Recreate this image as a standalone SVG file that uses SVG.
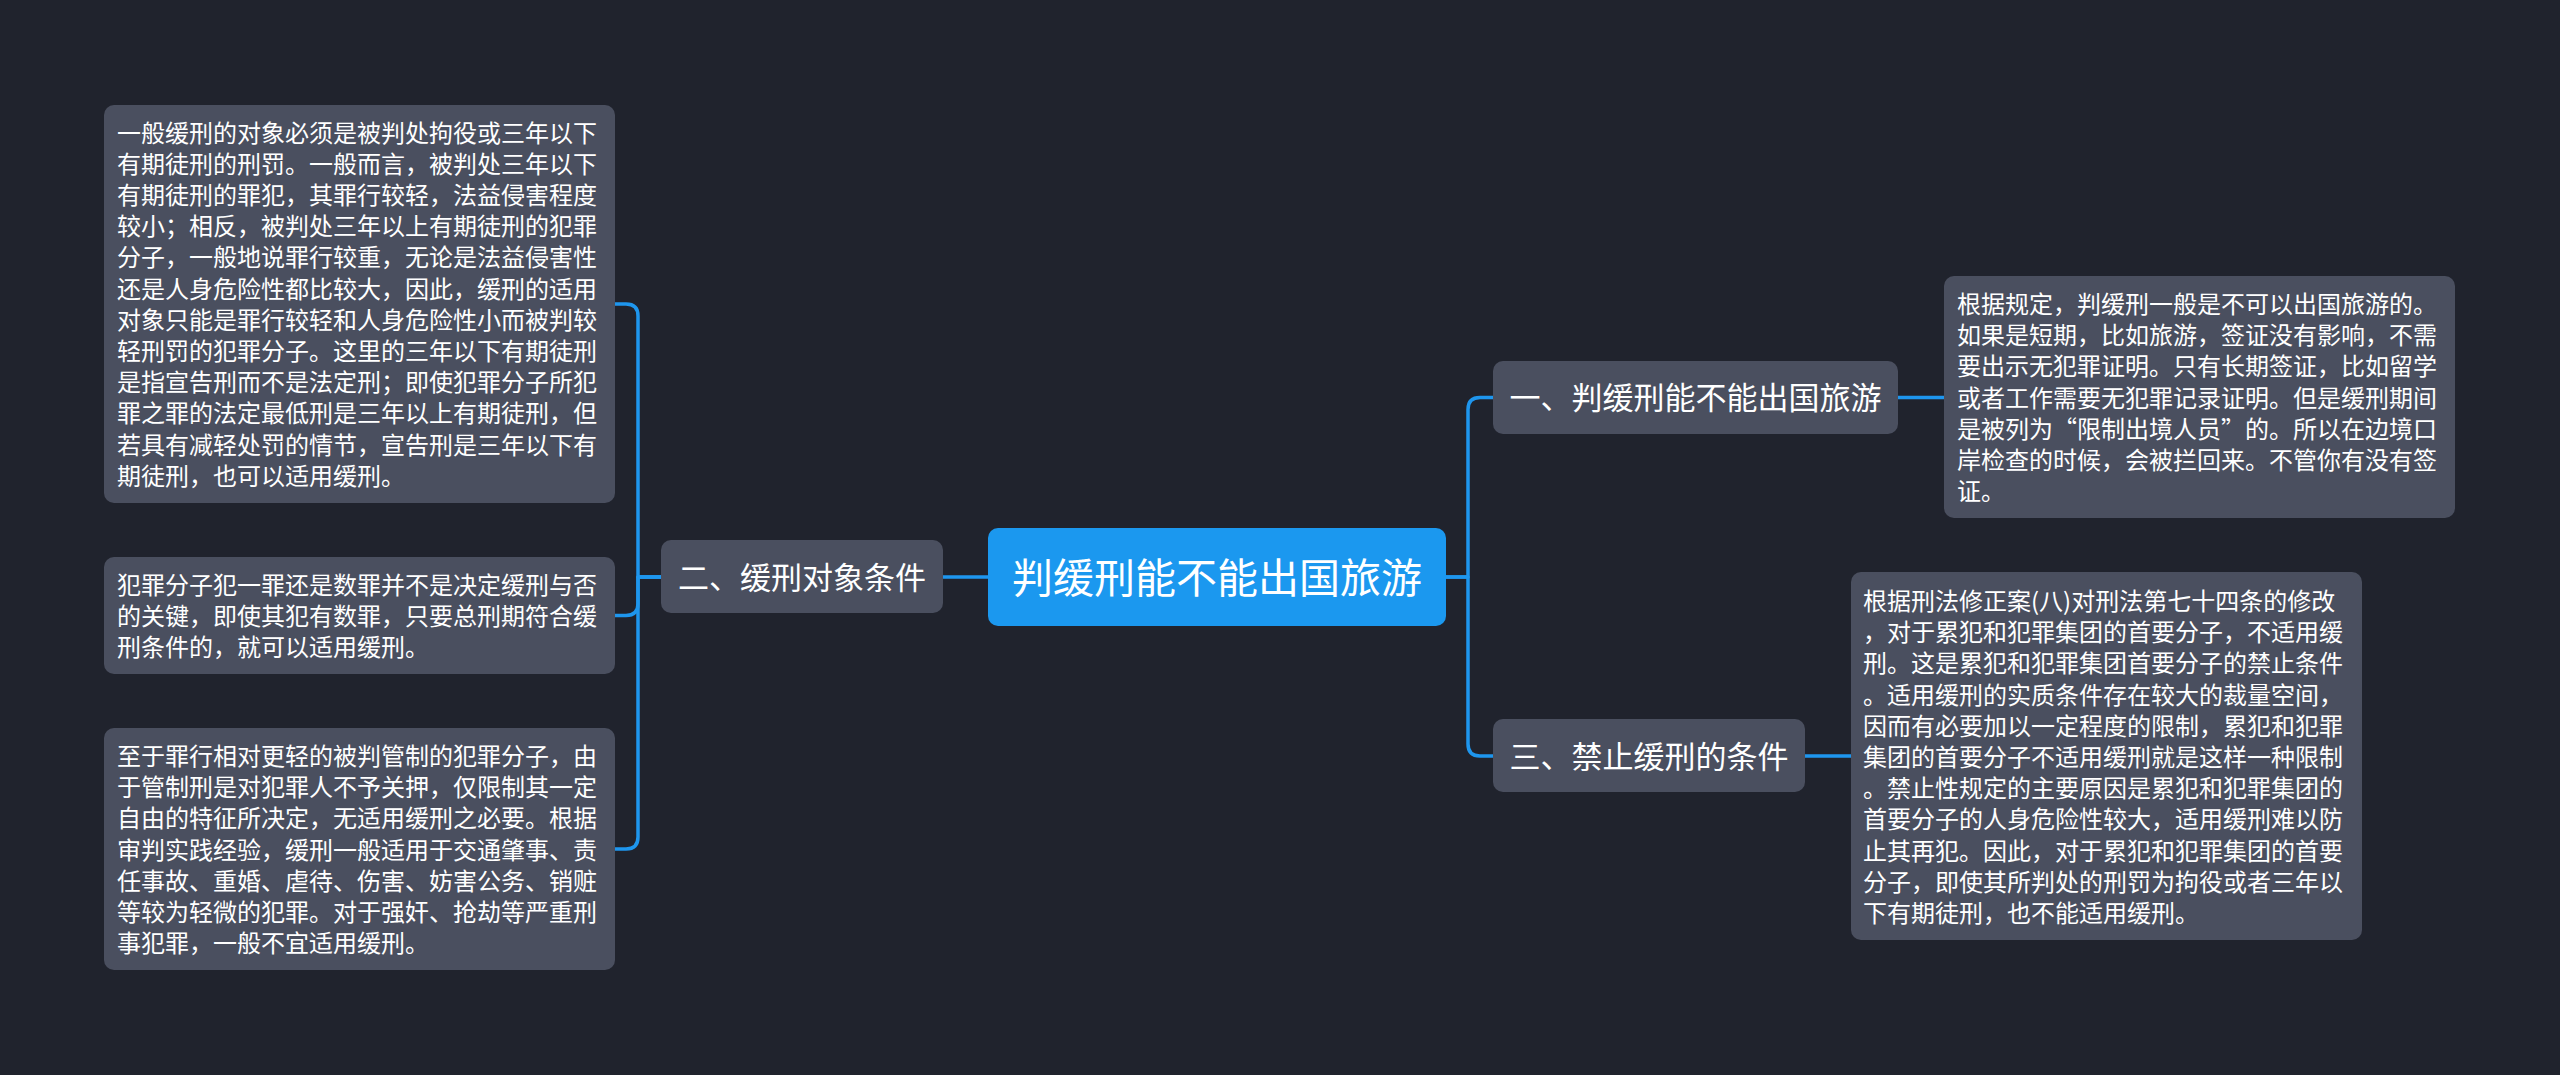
<svg xmlns="http://www.w3.org/2000/svg" width="2560" height="1075" viewBox="0 0 2560 1075">
<style>
.bg{fill:#20232d}
.box{fill:#4a4f5f}
.root{fill:#1b98ef}
.t{font-family:"Noto Sans CJK SC","Noto Sans",sans-serif;fill:#ffffff}
.d{font-size:24px}
.n{font-size:31px;text-anchor:middle}
.c{font-size:41px;text-anchor:middle}
.l{fill:none;stroke:#1e96ee;stroke-width:3.5;stroke-linecap:round;stroke-linejoin:round}
</style>
<rect class="bg" x="0" y="0" width="2560" height="1075"/>
<g id="connectors">
<path class="l" d="M988 577H943"/>
<path class="l" d="M661 577H638V316Q638 304 626 304H615"/>
<path class="l" d="M661 577H638V603.5Q638 615.5 626 615.5H615"/>
<path class="l" d="M661 577H638V837Q638 849 626 849H615"/>
<path class="l" d="M1446 577H1468V409.5Q1468 397.5 1480 397.5H1493"/>
<path class="l" d="M1446 577H1468V744Q1468 756 1480 756H1493"/>
<path class="l" d="M1898 397.5H1944"/>
<path class="l" d="M1805 756H1851"/>
</g>
<g id="root">
<rect class="root" x="988" y="528" width="458" height="98" rx="10"/>
<text class="t c" x="1217" y="592.5">判缓刑能不能出国旅游</text>
</g>
<g id="node-2">
<rect class="box" x="661" y="540" width="282" height="73" rx="10"/>
<text class="t n" x="802" y="588.5">二、缓刑对象条件</text>
</g>
<g id="node-1">
<rect class="box" x="1493" y="361" width="405" height="73" rx="10"/>
<text class="t n" x="1695.5" y="409">一、判缓刑能不能出国旅游</text>
</g>
<g id="node-3">
<rect class="box" x="1493" y="719" width="312" height="73" rx="10"/>
<text class="t n" x="1649" y="767.5">三、禁止缓刑的条件</text>
</g>
<g id="detail-2a">
<rect class="box" x="104" y="105" width="511" height="398" rx="10"/>
<text class="t d">
<tspan x="117" y="141.5">一般缓刑的对象必须是被判处拘役或三年以下</tspan>
<tspan x="117" y="172.7">有期徒刑的刑罚。一般而言，被判处三年以下</tspan>
<tspan x="117" y="203.9">有期徒刑的罪犯，其罪行较轻，法益侵害程度</tspan>
<tspan x="117" y="235.1">较小；相反，被判处三年以上有期徒刑的犯罪</tspan>
<tspan x="117" y="266.3">分子，一般地说罪行较重，无论是法益侵害性</tspan>
<tspan x="117" y="297.5">还是人身危险性都比较大，因此，缓刑的适用</tspan>
<tspan x="117" y="328.7">对象只能是罪行较轻和人身危险性小而被判较</tspan>
<tspan x="117" y="359.9">轻刑罚的犯罪分子。这里的三年以下有期徒刑</tspan>
<tspan x="117" y="391.1">是指宣告刑而不是法定刑；即使犯罪分子所犯</tspan>
<tspan x="117" y="422.3">罪之罪的法定最低刑是三年以上有期徒刑，但</tspan>
<tspan x="117" y="453.5">若具有减轻处罚的情节，宣告刑是三年以下有</tspan>
<tspan x="117" y="484.7">期徒刑，也可以适用缓刑。</tspan>
</text>
</g>
<g id="detail-2b">
<rect class="box" x="104" y="557" width="511" height="117" rx="10"/>
<text class="t d">
<tspan x="117" y="594">犯罪分子犯一罪还是数罪并不是决定缓刑与否</tspan>
<tspan x="117" y="625.2">的关键，即使其犯有数罪，只要总刑期符合缓</tspan>
<tspan x="117" y="656.4">刑条件的，就可以适用缓刑。</tspan>
</text>
</g>
<g id="detail-2c">
<rect class="box" x="104" y="728" width="511" height="242" rx="10"/>
<text class="t d">
<tspan x="117" y="765">至于罪行相对更轻的被判管制的犯罪分子，由</tspan>
<tspan x="117" y="796.2">于管制刑是对犯罪人不予关押，仅限制其一定</tspan>
<tspan x="117" y="827.4">自由的特征所决定，无适用缓刑之必要。根据</tspan>
<tspan x="117" y="858.6">审判实践经验，缓刑一般适用于交通肇事、责</tspan>
<tspan x="117" y="889.8">任事故、重婚、虐待、伤害、妨害公务、销赃</tspan>
<tspan x="117" y="921">等较为轻微的犯罪。对于强奸、抢劫等严重刑</tspan>
<tspan x="117" y="952.2">事犯罪，一般不宜适用缓刑。</tspan>
</text>
</g>
<g id="detail-1">
<rect class="box" x="1944" y="276" width="511" height="242" rx="10"/>
<text class="t d">
<tspan x="1957" y="313">根据规定，判缓刑一般是不可以出国旅游的。</tspan>
<tspan x="1957" y="344.2">如果是短期，比如旅游，签证没有影响，不需</tspan>
<tspan x="1957" y="375.4">要出示无犯罪证明。只有长期签证，比如留学</tspan>
<tspan x="1957" y="406.6">或者工作需要无犯罪记录证明。但是缓刑期间</tspan>
<tspan x="1957" y="437.8">是被列为“限制出境人员”的。所以在边境口</tspan>
<tspan x="1957" y="469">岸检查的时候，会被拦回来。不管你有没有签</tspan>
<tspan x="1957" y="500.2">证。</tspan>
</text>
</g>
<g id="detail-3">
<rect class="box" x="1851" y="572" width="511" height="368" rx="10"/>
<text class="t d">
<tspan x="1863" y="610">根据刑法修正案(八)对刑法第七十四条的修改</tspan>
<tspan x="1863" y="641.2">，对于累犯和犯罪集团的首要分子，不适用缓</tspan>
<tspan x="1863" y="672.4">刑。这是累犯和犯罪集团首要分子的禁止条件</tspan>
<tspan x="1863" y="703.6">。适用缓刑的实质条件存在较大的裁量空间，</tspan>
<tspan x="1863" y="734.8">因而有必要加以一定程度的限制，累犯和犯罪</tspan>
<tspan x="1863" y="766">集团的首要分子不适用缓刑就是这样一种限制</tspan>
<tspan x="1863" y="797.2">。禁止性规定的主要原因是累犯和犯罪集团的</tspan>
<tspan x="1863" y="828.4">首要分子的人身危险性较大，适用缓刑难以防</tspan>
<tspan x="1863" y="859.6">止其再犯。因此，对于累犯和犯罪集团的首要</tspan>
<tspan x="1863" y="890.8">分子，即使其所判处的刑罚为拘役或者三年以</tspan>
<tspan x="1863" y="922">下有期徒刑，也不能适用缓刑。</tspan>
</text>
</g>
</svg>
